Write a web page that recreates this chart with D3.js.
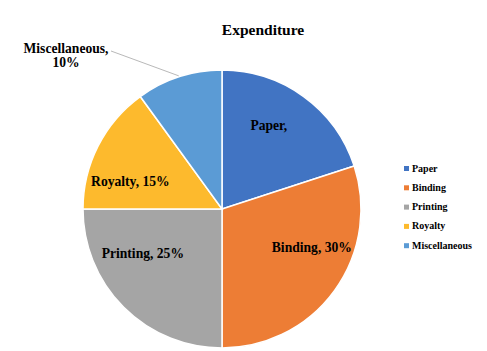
<!DOCTYPE html>
<html>
<head>
<meta charset="utf-8">
<style>
  body { margin: 0; background: #fff; }
  svg { display: block; }
  text { font-family: "Liberation Serif", "Times New Roman", serif; font-weight: bold; fill: #000; }
</style>
</head>
<body>
<svg width="487" height="351"></svg>
<script src="https://cdn.jsdelivr.net/npm/d3@7"></script>
<script>
  // data
  let categories = ["Paper", "Binding", "Printing", "Royalty", "Miscellaneous"]
  let values = [20, 30, 25, 15, 10]
  let colors = ["#4174C3", "#ED7D35", "#A5A5A5", "#FDBA2D", "#5B9BD5"]
  let title = "Expenditure"

  let svg = d3.select("svg")
  let cx = 222, cy = 209, r = 139

  svg.append("text").attr("x", 263).attr("y", 35)
    .attr("text-anchor", "middle").attr("font-size", "15.5px").text(title)

  let pie = d3.pie().sort(null).value(d => d)
  let arcs = pie(values)
  let arc = d3.arc().innerRadius(0).outerRadius(r)
  let color = d3.scaleOrdinal().domain(categories).range(colors)

  let g = svg.append("g").attr("transform", `translate(${cx},${cy})`)
  g.selectAll("path").data(arcs).enter().append("path")
    .attr("d", arc)
    .attr("fill", (d, i) => color(categories[i]))
    .attr("stroke", "#fff").attr("stroke-width", 1.5)

  // labels: centroid on an inner arc plus small nudges
  let labelArc = d3.arc().innerRadius(95).outerRadius(95)
  let nudge = [[-9, -7], [13, -17], [-12, -23], [-7, 16]]
  let labelText = (i) => i === 0 ? categories[i] + "," : categories[i] + ", " + values[i] + "%"
  arcs.slice(0, 4).forEach((d, i) => {
    let c = labelArc.centroid(d)
    g.append("text")
      .attr("x", c[0] + nudge[i][0]).attr("y", c[1] + nudge[i][1] + 4.5)
      .attr("text-anchor", "middle").attr("font-size", "13.6px")
      .text(labelText(i))
  })

  // Miscellaneous: outside label with leader line
  let m = arcs[4]
  let mid = (m.startAngle + m.endAngle) / 2
  let edge = [Math.sin(mid) * (r + 1), -Math.cos(mid) * (r + 1)]
  g.append("line")
    .attr("x1", edge[0]).attr("y1", edge[1])
    .attr("x2", 111 - cx).attr("y2", 51 - cy)
    .attr("stroke", "#a6a6a6").attr("stroke-width", 0.8)
  let mt = g.append("text").attr("text-anchor", "middle").attr("font-size", "13.6px")
  mt.append("tspan").attr("x", 66 - cx).attr("y", 52.5 - cy).text(categories[4] + ",")
  mt.append("tspan").attr("x", 66 - cx).attr("y", 67 - cy).text(values[4] + "%")

  // legend
  let lg = svg.append("g").attr("transform", "translate(404,170)")
  categories.forEach((c, i) => {
    let row = lg.append("g").attr("transform", `translate(0,${i * 19.3})`)
    row.append("rect").attr("x", 0).attr("y", -4).attr("width", 5).attr("height", 5).attr("fill", color(c))
    row.append("text").attr("x", 8).attr("y", 1.5).attr("font-size", "10px").text(c)
  })
</script>
</body>
</html>
